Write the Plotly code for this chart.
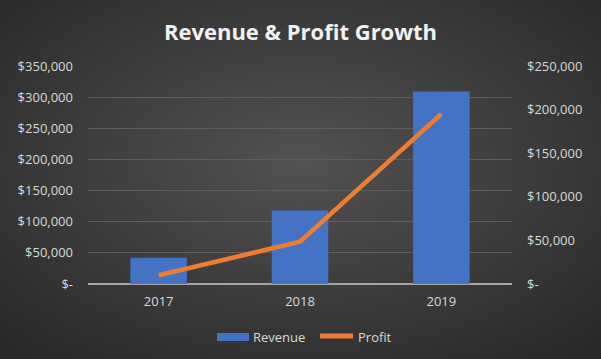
import plotly.graph_objects as go
import base64

years = ["2017", "2018", "2019"]
revenue = [42000, 118000, 309000]
profit = [10000, 48500, 195000]

left_ticks = [0, 50000, 100000, 150000, 200000, 250000, 300000, 350000]
left_text = ["$-", "$50,000", "$100,000", "$150,000", "$200,000", "$250,000", "$300,000", "$350,000"]
right_ticks = [0, 50000, 100000, 150000, 200000, 250000]
right_text = ["$-", "$50,000", "$100,000", "$150,000", "$200,000", "$250,000"]

W, H = 601, 359
svg = ('<svg xmlns="http://www.w3.org/2000/svg" width="601" height="359">'
       '<defs><radialGradient id="g" cx="50%" cy="45%" r="75%">'
       '<stop offset="0%" stop-color="#525252"/><stop offset="100%" stop-color="#262626"/>'
       '</radialGradient></defs><rect width="601" height="359" fill="url(#g)"/></svg>')
bg = "data:image/svg+xml;base64," + base64.b64encode(svg.encode()).decode()

tick_font = dict(family="Open Sans", size=13, color="#d9d9d9")

fig = go.Figure()
fig.add_trace(go.Bar(x=years, y=revenue, name="Revenue", marker=dict(color="#4472C4", line=dict(width=0)),
                     width=0.4, yaxis="y", showlegend=False))
fig.add_trace(go.Scatter(x=years, y=profit, name="Profit", mode="lines",
                         line=dict(color="#ED7D31", width=4.5), yaxis="y2", showlegend=False))

fig.update_layout(
    width=W, height=H,
    margin=dict(l=88, r=89, t=66, b=75, autoexpand=False),
    paper_bgcolor="#3a3a3a",
    plot_bgcolor="rgba(0,0,0,0)",
    showlegend=False,
    images=[dict(source=bg, xref="paper", yref="paper", x=-88/424, y=1 + 66/218,
                 sizex=601/424, sizey=359/218, xanchor="left", yanchor="top",
                 sizing="stretch", layer="below")],
    title=dict(text="<b>Revenue & Profit Growth</b>", x=0.5, xanchor="center", y=1 - 32/359, yanchor="middle",
               font=dict(family="Open Sans", size=22, color="#f2f2f2")),
    xaxis=dict(showgrid=False, tickfont=tick_font, ticks="", showline=False, zeroline=False, automargin=False,
               ticklabelstandoff=8),
    yaxis=dict(range=[0, 350000], tickvals=left_ticks, ticktext=left_text, tickfont=tick_font,
               showgrid=True, gridcolor="#5e5e5e", gridwidth=1, zeroline=True, zerolinecolor="#a6a6a6",
               zerolinewidth=2, showline=False, ticks="", ticklabelstandoff=14, automargin=False),
    yaxis2=dict(range=[0, 250000], tickvals=right_ticks, ticktext=right_text, tickfont=tick_font,
                overlaying="y", side="right", showgrid=False, zeroline=False, showline=False, ticks="",
                ticklabelstandoff=14, automargin=False),
    bargap=0.6,
)

# custom legend
def px_x(px):
    return (px - 88) / 424

def px_y(py):
    return (284 - py) / 218

fig.add_shape(type="rect", xref="paper", yref="paper", x0=px_x(217), x1=px_x(249), y0=px_y(341), y1=px_y(333),
              fillcolor="#4472C4", line=dict(width=0))
fig.add_shape(type="line", xref="paper", yref="paper", x0=px_x(320), x1=px_x(353), y0=px_y(336), y1=px_y(336),
              line=dict(color="#ED7D31", width=5))
fig.add_annotation(text="Revenue", xref="paper", yref="paper", x=px_x(251), y=px_y(337), xanchor="left",
                   yanchor="middle", showarrow=False, font=dict(family="Open Sans", size=13, color="#d9d9d9"))
fig.add_annotation(text="Profit", xref="paper", yref="paper", x=px_x(356), y=px_y(337), xanchor="left",
                   yanchor="middle", showarrow=False, font=dict(family="Open Sans", size=13, color="#d9d9d9"))

fig.write_html("out.html", config={"displayModeBar": False},
               post_script="document.body.style.margin='0';document.body.style.background='#2a2a2a';document.body.style.overflow='hidden';")
